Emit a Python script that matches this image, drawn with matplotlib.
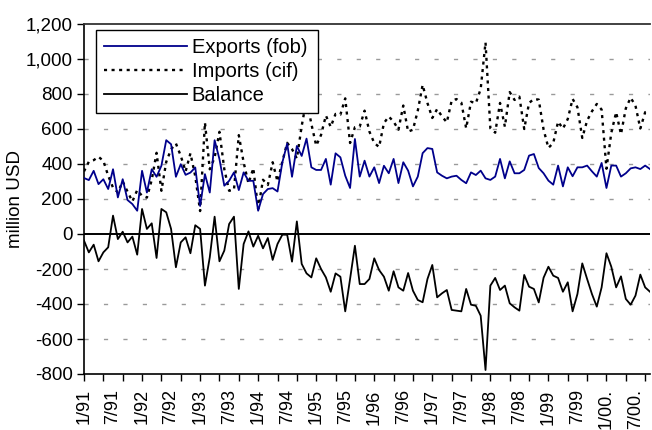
import numpy as np
import matplotlib
matplotlib.use("Agg")
import matplotlib.pyplot as plt
from matplotlib.ticker import FuncFormatter, FixedLocator

plt.rcParams['font.family'] = ['Liberation Sans', 'DejaVu Sans']

# Monthly data, 1/91 .. 10/00 (million USD)
exports = [320, 308, 361, 285, 313, 257, 370, 209, 313, 194, 171, 133,
           361, 237, 370, 327, 390, 536, 513, 327, 399, 338, 351, 380,
           160, 342, 237, 536, 428, 276, 304, 352, 251, 352, 304, 304,
           133, 228, 257, 262, 243, 409, 517, 327, 503, 446, 545, 381,
           366, 366, 429, 282, 461, 438, 333, 263, 543, 328, 419, 328,
           381, 291, 390, 347, 429, 291, 410, 362, 272, 328, 462, 491,
           486, 352, 333, 318, 328, 333, 309, 290, 352, 337, 362, 318,
           309, 328, 429, 318, 415, 347, 347, 366, 448, 457, 377, 347,
           305, 282, 391, 272, 381, 330, 381, 381, 391, 358, 328, 406,
           263, 391, 391, 328, 347, 375, 381, 371, 391, 371]

imports = [358, 413, 422, 441, 418, 333, 265, 238, 300, 242, 186, 251,
           218, 208, 309, 464, 247, 412, 484, 517, 447, 357, 461, 330,
           131, 637, 370, 437, 584, 371, 247, 253, 565, 409, 289, 376,
           143, 310, 280, 410, 300, 413, 521, 485, 431, 617, 770, 629,
           505, 566, 677, 612, 686, 682, 775, 520, 610, 614, 705, 585,
           520, 497, 634, 671, 642, 596, 734, 585, 596, 705, 852, 748,
           663, 714, 672, 638, 762, 771, 751, 604, 756, 747, 829, 1095,
           604, 579, 749, 613, 811, 766, 785, 600, 749, 771, 768, 597,
           492, 520, 642, 602, 657, 772, 724, 549, 648, 701, 743, 711,
           373, 578, 696, 570, 718, 779, 733, 603, 696, 701]

balance = [-38, -105, -61, -156, -105, -76, 105, -29, 13, -48, -15, -118,
           143, 29, 61, -137, 143, 124, 29, -190, -48, -19, -110, 50,
           29, -295, -133, 99, -156, -95, 57, 99, -314, -57, 15, -72,
           -10, -82, -23, -148, -57, -4, -4, -158, 72, -171, -225, -248,
           -139, -200, -248, -330, -225, -244, -442, -257, -67, -286, -286, -257,
           -139, -206, -244, -324, -213, -305, -324, -223, -324, -377, -390, -257,
           -177, -362, -339, -320, -434, -438, -442, -314, -404, -410, -467, -777,
           -295, -251, -320, -295, -396, -419, -438, -234, -301, -314, -391, -250,
           -187, -238, -251, -330, -276, -442, -343, -168, -257, -343, -415, -305,
           -110, -187, -305, -242, -371, -404, -352, -232, -305, -330]

tick_labels = ["1/91", "7/91", "1/92", "7/92", "1/93", "7/93", "1/94", "7/94",
               "1/95", "7/95", "1/96", "7/96", "1/97", "7/97", "1/98", "7/98",
               "1/99", "7/99", "1/00.", "7/00."]

n = len(exports)
x = np.arange(n)

fig = plt.figure(figsize=(6.52, 4.30), dpi=100)
ax = fig.add_axes([84/652, 1-374/430, 566/652, 350/430])

for v in range(-800, 1201, 200):
    if v in (0, 1200, -800):
        continue
    ax.axhline(v, color='#9a9a9a', lw=1.0, dashes=(3, 11), zorder=0)
ax.axhline(0, color='black', lw=1.4, zorder=1)

l1, = ax.plot(x, exports, color='#00008b', lw=1.3, label='Exports (fob)', zorder=3)
l2, = ax.plot(x, imports, color='black', lw=1.7, dashes=(1.3, 1.9), label='Imports (cif)', zorder=2)
l3, = ax.plot(x, balance, color='black', lw=1.3, label='Balance', zorder=3)

ax.set_xlim(0, n - 1)
ax.set_ylim(-800, 1200)
ax.set_yticks(np.arange(-800, 1201, 200))
ax.yaxis.set_major_formatter(FuncFormatter(lambda v, p: f"{int(v):,}".replace('\u2212', '-')))

ax.xaxis.remove_overlapping_locs = False
ax.set_xticks(np.arange(0, n, 6)[:len(tick_labels)])
ax.set_xticklabels(tick_labels, rotation=90)
ax.xaxis.set_minor_locator(FixedLocator(np.arange(0, n, 4)))
ax.tick_params(axis='x', which='major', length=0, pad=11, labelsize=13)
ax.tick_params(axis='x', which='minor', length=5, width=1, direction='out')
ax.tick_params(axis='y', length=5, width=1, direction='out', labelsize=13.5, pad=3)

for s in ['left', 'bottom']:
    ax.spines[s].set_color('black')
    ax.spines[s].set_linewidth(1.2)
ax.spines['top'].set_color('#333333')
ax.spines['top'].set_linewidth(1.3)
ax.spines['right'].set_visible(False)

ax.set_ylabel('million USD', fontsize=13.5, labelpad=1)

x0 = (96 - 84) / 566
w = (318 - 96) / 566
y_top = (374 - 30) / 350
h = (114 - 30) / 350
leg = ax.legend(handles=[l1, l2, l3], loc='upper left',
                bbox_to_anchor=(x0, y_top - h, w, h), mode='expand',
                borderaxespad=0,
                fontsize=14.5, handlelength=4.1, handletextpad=0.25,
                labelspacing=0.25, borderpad=0.4, fancybox=False,
                framealpha=1, edgecolor='black')
leg.get_frame().set_linewidth(1.0)

fig.savefig('out.png', dpi=100)
